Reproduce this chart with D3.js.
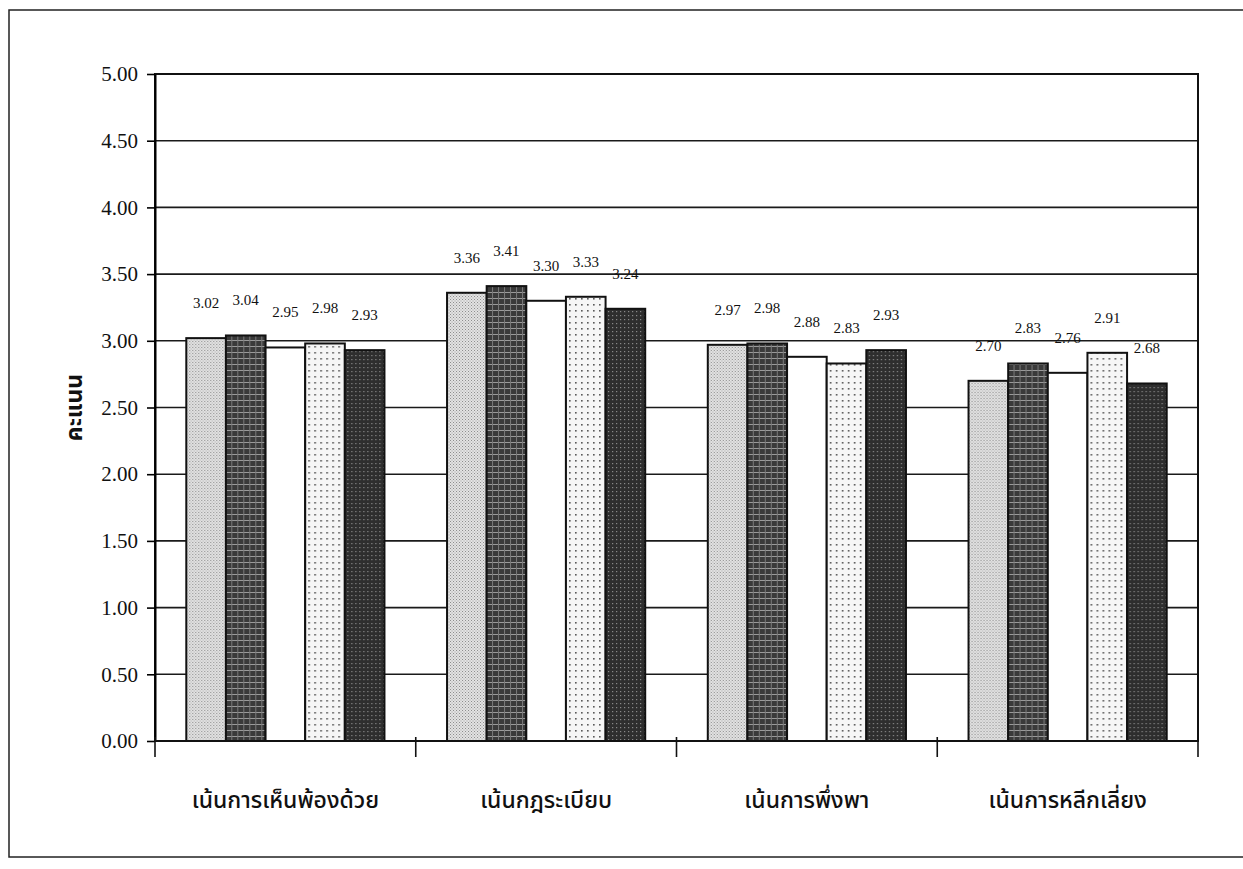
<!DOCTYPE html>
<html>
<head>
<meta charset="utf-8">
<script src="https://cdn.jsdelivr.net/npm/d3@7"></script>
<style>
  body { margin: 0; background: #fff; }
  text { fill: #111; }
</style>
</head>
<body>
<div id="container"></div>
<script>
const WIDTH = 1243;
const HEIGHT = 869;
const MARGIN = { TOP: 74, BOTTOM: 128, LEFT: 155, RIGHT: 45 };

const width = WIDTH - MARGIN.LEFT - MARGIN.RIGHT;
const height = HEIGHT - MARGIN.TOP - MARGIN.BOTTOM;

// datos
const categories = ['เน้นการเห็นพ้องด้วย', 'เน้นกฎระเบียบ', 'เน้นการพึ่งพา', 'เน้นการหลีกเลี่ยง'];
const seriesNames = ['s1', 's2', 's3', 's4', 's5'];
const s1 = [3.02, 3.36, 2.97, 2.70];
const s2 = [3.04, 3.41, 2.98, 2.83];
const s3 = [2.95, 3.30, 2.88, 2.76];
const s4 = [2.98, 3.33, 2.83, 2.91];
const s5 = [2.93, 3.24, 2.93, 2.68];
const yTicks = [0, 0.5, 1, 1.5, 2, 2.5, 3, 3.5, 4, 4.5, 5];
const yLabel = 'คะแนน';

const seriesValues = [s1, s2, s3, s4, s5];

const svg = d3.select('#container')
  .append('svg')
    .attr('width', WIDTH)
    .attr('height', HEIGHT);

// patrones de relleno (imitan el tramado de la impresión)
const defs = svg.append('defs');

const p1 = defs.append('pattern').attr('id', 'pat1')
  .attr('width', 3).attr('height', 3).attr('patternUnits', 'userSpaceOnUse');
p1.append('rect').attr('width', 3).attr('height', 3).attr('fill', '#e4e4e4');
p1.append('rect').attr('width', 1).attr('height', 1).attr('fill', '#8a8a8a');
p1.append('rect').attr('x', 1.5).attr('y', 1.5).attr('width', 1).attr('height', 1).attr('fill', '#9a9a9a');

const p2 = defs.append('pattern').attr('id', 'pat2')
  .attr('width', 6).attr('height', 6).attr('patternUnits', 'userSpaceOnUse');
p2.append('rect').attr('width', 6).attr('height', 6).attr('fill', '#3a3a3a');
p2.append('rect').attr('y', 2).attr('width', 6).attr('height', 1).attr('fill', '#9a9a9a');
p2.append('rect').attr('x', 3).attr('width', 1).attr('height', 6).attr('fill', '#7a7a7a');

const p4 = defs.append('pattern').attr('id', 'pat4')
  .attr('width', 6).attr('height', 6).attr('patternUnits', 'userSpaceOnUse');
p4.append('rect').attr('width', 6).attr('height', 6).attr('fill', '#f6f6f6');
p4.append('rect').attr('x', 2).attr('y', 2).attr('width', 1.6).attr('height', 1.6).attr('fill', '#555');

const p5 = defs.append('pattern').attr('id', 'pat5')
  .attr('width', 4).attr('height', 4).attr('patternUnits', 'userSpaceOnUse');
p5.append('rect').attr('width', 4).attr('height', 4).attr('fill', '#2e2e2e');
p5.append('rect').attr('x', 1).attr('y', 1).attr('width', 1.2).attr('height', 1.2).attr('fill', '#8c8c8c');

const fills = ['url(#pat1)', 'url(#pat2)', '#ffffff', 'url(#pat4)', 'url(#pat5)'];

// marco exterior
svg.append('rect')
  .attr('x', 9).attr('y', 10)
  .attr('width', 1250).attr('height', 847)
  .attr('fill', 'none')
  .attr('stroke', '#222')
  .attr('stroke-width', 1.5);

const container = svg.append('g')
  .attr('transform', `translate(${MARGIN.LEFT}, ${MARGIN.TOP})`);

const x0 = d3.scaleBand().domain(categories).range([0, width]).paddingInner(0.24).paddingOuter(0.12);
const x1 = d3.scaleBand().domain(seriesNames).range([0, x0.bandwidth()]);
const y = d3.scaleLinear().domain([0, 5]).range([height, 0]);

// líneas de la grilla
container.selectAll('.grid')
  .data(yTicks.filter(t => t > 0))
  .enter()
  .append('line')
    .attr('class', 'grid')
    .attr('x1', 0).attr('x2', width)
    .attr('y1', d => y(d)).attr('y2', d => y(d))
    .attr('stroke', '#1a1a1a')
    .attr('stroke-width', 1.6);

// barras
const groups = container.selectAll('.group')
  .data(categories)
  .enter()
  .append('g')
    .attr('class', 'group')
    .attr('transform', c => `translate(${x0(c)}, 0)`);

groups.selectAll('rect')
  .data((c, ci) => seriesNames.map((s, si) => ({ s, si, v: seriesValues[si][ci] })))
  .enter()
  .append('rect')
    .attr('x', d => x1(d.s))
    .attr('y', d => y(d.v))
    .attr('width', x1.bandwidth())
    .attr('height', d => height - y(d.v))
    .attr('fill', d => fills[d.si])
    .attr('stroke', '#111')
    .attr('stroke-width', 2);

groups.selectAll('.val')
  .data((c, ci) => seriesNames.map((s, si) => ({ s, si, v: seriesValues[si][ci] })))
  .enter()
  .append('text')
    .attr('class', 'val')
    .attr('x', d => x1(d.s) + x1.bandwidth() / 2)
    .attr('y', d => y(d.v) - 30)
    .attr('text-anchor', 'middle')
    .style('font-family', '"Liberation Serif", "DejaVu Serif", serif')
    .style('font-size', '15px')
    .text(d => d.v.toFixed(2));

// marco del área de trazado
container.append('rect')
  .attr('width', width).attr('height', height)
  .attr('fill', 'none')
  .attr('stroke', '#111')
  .attr('stroke-width', 2);

// eje y
const yAxis = container.append('g')
  .call(d3.axisLeft(y).tickValues(yTicks).tickFormat(d3.format('.2f')).tickSize(8).tickSizeOuter(0));
yAxis.select('.domain').attr('stroke-width', 2);
yAxis.selectAll('line').attr('stroke-width', 1.6);
yAxis.selectAll('text')
  .attr('x', -17)
  .style('font-family', '"Liberation Serif", "DejaVu Serif", serif')
  .style('font-size', '21px')
  .attr('fill', '#111');

// eje x: marcas entre categorías que cruzan el eje
const xBounds = categories.map(c => x0(c) - x0.step() * x0.paddingInner() / 2);
xBounds[0] = 0;
xBounds.push(width);
container.selectAll('.xtick')
  .data(xBounds)
  .enter()
  .append('line')
    .attr('class', 'xtick')
    .attr('x1', d => d).attr('x2', d => d)
    .attr('y1', height - 4).attr('y2', height + 16)
    .attr('stroke', '#111')
    .attr('stroke-width', 1.6);
container.append('line')
  .attr('x1', 0).attr('x2', width)
  .attr('y1', height).attr('y2', height)
  .attr('stroke', '#111').attr('stroke-width', 2.2);

container.selectAll('.cat')
  .data(categories)
  .enter()
  .append('text')
    .attr('class', 'cat')
    .attr('x', c => x0(c) + x0.bandwidth() / 2)
    .attr('y', height + 67)
    .attr('text-anchor', 'middle')
    .style('font-family', '"Noto Sans Thai", "Noto Sans", "DejaVu Sans", sans-serif')
    .style('font-size', '23px')
    .style('font-weight', '500')
    .text(c => c);

// título del eje y
svg.append('text')
  .attr('transform', `translate(74, ${MARGIN.TOP + y(2.5)}) rotate(-90)`)
  .attr('text-anchor', 'middle')
  .attr('dy', '0.35em')
  .style('font-family', '"Noto Sans Thai", "Noto Sans", "DejaVu Sans", sans-serif')
  .style('font-size', '23px')
  .style('font-weight', 'bold')
  .text(yLabel);
</script>
</body>
</html>
